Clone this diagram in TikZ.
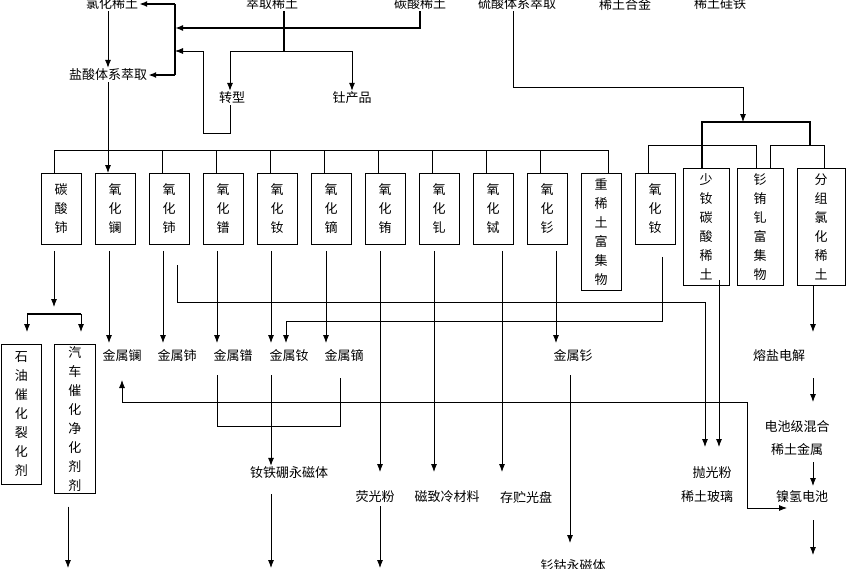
\documentclass[tikz,border=0pt]{standalone}
\usepackage{fontspec}
\setmainfont{Noto Sans CJK SC}
\usetikzlibrary{positioning,calc,arrows.meta}
\begin{document}
\begin{tikzpicture}[x=1pt, y=-1pt, >={Latex[length=8pt,width=6pt]},
    box/.style={rectangle, draw=black, thick, minimum width=40pt, anchor=north, inner sep=2pt, align=center, font=\fontsize{13}{19}\selectfont},
    lbl/.style={inner sep=1pt, font=\fontsize{13}{16}\selectfont},
    ln/.style={draw=black, line width=0.8pt},
    bar/.style={draw=black, line width=1.6pt}]
    \useasboundingbox (0,0) rectangle (846,568);
    % top row
    \node[lbl] (lvhua) at (112,4) {氯化稀土};
    \node[lbl] (cuiqu) at (272,4) {萃取稀土};
    \node[lbl] (tansuan) at (420,4) {碳酸稀土};
    \node[lbl] (liusuan) at (517,4) {硫酸体系萃取};
    \node[lbl] (hejin) at (625,4) {稀土合金};
    \node[lbl] (guitie) at (720,4) {稀土硅铁};
    \node[lbl] (yansuan) at (108,75) {盐酸体系萃取};
    \node[lbl] (zhuanxing) at (232,98) {转型};
    \node[lbl] (tu) at (352,98) {钍产品};
    % thick links at the top
    \draw[bar] (175,4) -- (175,75);
    \draw[bar, ->] (175,4) -- (lvhua.east);
    \draw[bar, ->] (175,75) -- (yansuan.east);
    \draw[bar, ->] (tansuan.south) -- (420,28) -- (175,28);
    \draw[bar] (cuiqu.south -| 284,0) -- (284,51);
    \draw[ln, ->] (230,51) -- (zhuanxing.north -| 230,0);
    \draw[ln] (230,51) -- (352,51);
    \draw[ln, ->] (352,51) -- (tu.north);
    \draw[ln, ->] (zhuanxing.south -| 230,0) -- (230,133) -- (203,133) -- (203,51) -- (175,51);
    \draw[ln, ->] (lvhua.south -| 108,0) -- (yansuan.north -| 108,0);
    % oxide boxes
    \node[box, minimum height=71pt] (tance) at (61,173) {碳\\酸\\铈};
    \node[box, minimum height=71pt] (yla) at (115,173) {氧\\化\\镧};
    \node[box, minimum height=71pt] (yce) at (169,173) {氧\\化\\铈};
    \node[box, minimum height=71pt] (ypu) at (223,173) {氧\\化\\镨};
    \node[box, minimum height=71pt] (ynd) at (277,173) {氧\\化\\钕};
    \node[box, minimum height=71pt] (ydy) at (331,173) {氧\\化\\镝};
    \node[box, minimum height=71pt] (yeu) at (385,173) {氧\\化\\铕};
    \node[box, minimum height=71pt] (ygd) at (439,173) {氧\\化\\钆};
    \node[box, minimum height=71pt] (ytb) at (493,173) {氧\\化\\铽};
    \node[box, minimum height=71pt] (ysm) at (547,173) {氧\\化\\钐};
    \node[box, minimum height=117pt] (zhong) at (601,173) {重\\稀\\土\\富\\集\\物};
    \node[box, minimum height=71pt] (ynd2) at (655,173) {氧\\化\\钕};
    \node[box, minimum height=117pt, minimum width=46pt] (shaond) at (706,168) {少\\钕\\碳\\酸\\稀\\土};
    \node[box, minimum height=117pt, minimum width=46pt] (smeugd) at (760,168) {钐\\铕\\钆\\富\\集\\物};
    \node[box, minimum height=117pt, minimum width=48pt] (fenzu) at (821,168) {分\\组\\氯\\化\\稀\\土};
    % bus over the oxide boxes
    \draw[ln] (54,173) -- (54,150) -- (608,150) -- (608,173);
    \foreach \x in {162,216,270,324,378,432,486,540} \draw[ln] (\x,150) -- (\x,173);
    \draw[ln, ->] (yansuan.south -| 108,0) -- (108,173);
    % sulfuric branch
    \draw[ln, ->] (liusuan.south -| 513,0) -- (513,87) -- (743,87) -- (743,122);
    \draw[bar] (702,168) -- (702,122) -- (810,122) -- (810,145);
    \draw[ln] (648,173) -- (648,145) -- (756,145) -- (756,168);
    \draw[ln] (770,168) -- (770,145) -- (824,145) -- (824,168);
    % catalysts
    \node[box, minimum height=140pt, minimum width=40pt, anchor=north west] (shiyou) at (1,344) {石\\油\\催\\化\\裂\\化\\剂};
    \node[box, minimum height=140pt, minimum width=41pt, anchor=north west] (qiche) at (54,344) {汽\\车\\催\\化\\净\\化\\剂\\剂};
    \draw[ln, ->] (tance.south -| 54,0) ++(0,6) -- (54,307);
    \draw[bar] (27,314) -- (81,314);
    \draw[ln, ->] (27,314) -- (27,332);
    \draw[ln, ->] (81,314) -- (81,332);
    \draw[ln, ->] (qiche.south -| 68,0) ++(0,13) -- (68,568);
    % metals
    \node[lbl] (mla) at (122,356) {金属镧};
    \node[lbl] (mce) at (177,356) {金属铈};
    \node[lbl] (mpr) at (233,356) {金属镨};
    \node[lbl] (mnd) at (289,356) {金属钕};
    \node[lbl] (mdy) at (344,356) {金属镝};
    \node[lbl] (msm) at (573,356) {金属钐};
    \node[lbl] (rongyan) at (779,356) {熔盐电解};
    \draw[ln, ->] (yla.south -| 109,0) ++(0,6) -- (109,343);
    \draw[ln, ->] (yce.south -| 163,0) ++(0,6) -- (163,343);
    \draw[ln, ->] (ypu.south -| 217,0) ++(0,6) -- (217,343);
    \draw[ln, ->] (ynd.south -| 271,0) ++(0,6) -- (271,343);
    \draw[ln, ->] (ydy.south -| 326,0) ++(0,6) -- (326,343);
    \draw[ln, ->] (ysm.south -| 556,0) ++(0,6) -- (556,343);
    % products
    \node[lbl] (ndfeb) at (289,473) {钕铁硼永磁体};
    \node[lbl] (yingguang) at (375,497) {荧光粉};
    \node[lbl] (cizhi) at (447,497) {磁致冷材料};
    \node[lbl] (cunzhu) at (526,497) {存贮光盘};
    \node[lbl] (smco) at (573,566) {钐钴永磁体};
    \node[lbl] (paoguang) at (712,473) {抛光粉};
    \node[lbl] (boli) at (707,497) {稀土玻璃};
    \node[lbl] (dianchi) at (797,427) {电池级混合};
    \node[lbl] (jinshu) at (797,450) {稀土金属};
    \node[lbl] (nieqing) at (802,497) {镍氢电池};
    \draw[ln, ->] (yeu.south -| 380,0) ++(0,6) -- (380,472);
    \draw[ln, ->] (ygd.south -| 434,0) ++(0,6) -- (434,472);
    \draw[ln, ->] (ytb.south -| 502,0) ++(0,6) -- (502,472);
    \draw[ln, ->] (177,265) -- (177,302) -- (705,302) -- (705,447);
    \draw[ln, ->] (shaond.south -| 719,0) ++(0,-6) -- (719,447);
    \draw[ln, ->] (ynd2.south -| 662,0) ++(0,12) -- (662,321) -- (286,321) -- (286,343);
    \draw[ln] (mpr.south -| 217,0) ++(0,12) -- (217,426) -- (340,426) -- (340,378);
    \draw[ln, ->] (mnd.south -| 271,0) ++(0,12) -- (ndfeb.north -| 271,0);
    \draw[ln, ->] (ndfeb.south -| 271,0) ++(0,14) -- (271,568);
    \draw[ln, ->] (yingguang.south -| 380,0) ++(0,2) -- (380,568);
    \draw[ln, ->] (msm.south -| 570,0) ++(0,12) -- (570,543);
    \draw[ln, ->] (747,402) -- (122,402) -- (122,380);
    \draw[ln, ->] (747,402) -- (747,508) -- (787,508);
    \draw[ln, ->] (fenzu.south -| 813,0) -- (813,332);
    \draw[ln, ->] (813,378) -- (813,402);
    \draw[ln, ->] (813,462) -- (813,486);
    \draw[ln, ->] (813,520) -- (813,555);
\end{tikzpicture}
\end{document}
